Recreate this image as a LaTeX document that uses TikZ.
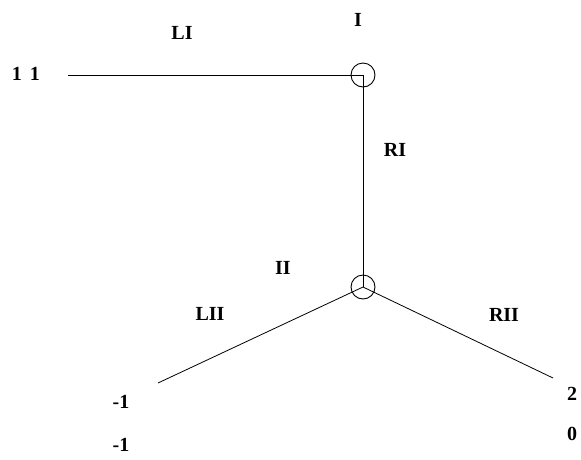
\documentclass[tikz,border=0pt]{standalone}
\usepackage{fontspec}
\setmainfont{Liberation Serif}
\usetikzlibrary{positioning}

\begin{document}
\begin{tikzpicture}[
    x=1pt, y=-1pt,
    dec/.style={draw, circle, minimum size=24pt, inner sep=0pt, line width=0.9pt},
    edge/.style={line width=0.8pt},
    lbl/.style={font=\fontsize{20}{24}\selectfont\bfseries, inner sep=1pt}
]
\useasboundingbox (0,0) rectangle (581,459);
\node[dec] (n1) at (363,75) {};
\node[dec] (n2) at (363,287) {};
\coordinate (t1) at (68,75);
\coordinate (t2) at (158,383);
\coordinate (t3) at (553,378);

\draw[edge] (t1) -- (n1.center);
\draw[edge] (n1.center) -- (n2.center);
\draw[edge] (n2.center) -- (t2);
\draw[edge] (n2.center) -- (t3);

\node[lbl] (pI) at (358,20) {I};
\node[lbl] (pII) at (283,268) {II};
\node[lbl] (aLI) at (182,33) {LI};
\node[lbl] (aRI) at (395,150) {RI};
\node[lbl] (aLII) at (210,314) {LII};
\node[lbl] (aRII) at (504,315) {RII};
\node[lbl] (pay1) at (26,74) {1\hspace{0.4em}1};
\node[lbl] (pay2a) at (121,402) {-1};
\node[lbl] (pay2b) at (121,445) {-1};
\node[lbl] (pay3a) at (572,394) {2};
\node[lbl] (pay3b) at (572,434) {0};
\end{tikzpicture}
\end{document}
